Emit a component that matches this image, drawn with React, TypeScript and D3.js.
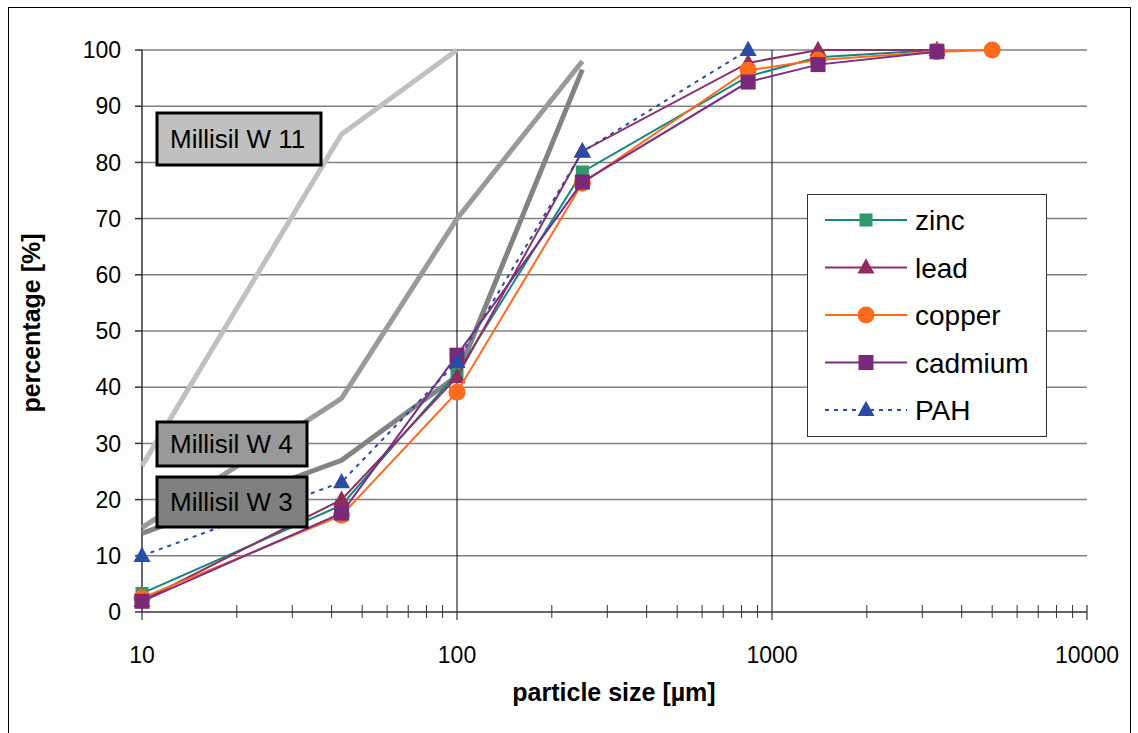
import React from 'react';
import * as d3 from 'd3';

// particle sizes (µm) of the sieve fractions
const sizes = [10, 43, 100, 250, 840, 1400, 3340, 5000];

const zinc = [3.3, 19, 42.5, 78.3, 95.3, 98.7, 100];
const lead = [2, 20, 41.8, 82, 97.7, 100, 100];
const copper = [2.5, 17.2, 39.1, 76.3, 96.4, 98.2, 99.7, 100];
const cadmium = [1.9, 17.6, 45.7, 76.5, 94.3, 97.4, 99.7];
const pah = [10, 23.1, 44.5, 81.9, 100];

const millisilW11 = [26, 85, 100];
const millisilW4 = [15, 38, 70, 98];
const millisilW3 = [14, 27, 42, 96.5];

const yTicks = [0, 10, 20, 30, 40, 50, 60, 70, 80, 90, 100];
const xTicks = [10, 100, 1000, 10000];

const series = [
  { name: 'zinc', values: zinc, line: '#14857f', fill: '#2e9a6c', marker: 'square', size: 13, dash: null },
  { name: 'lead', values: lead, line: '#8e3068', fill: '#8e2c62', marker: 'triangle', size: 17, dash: null },
  { name: 'copper', values: copper, line: '#ff6a1c', fill: '#ff6a1c', marker: 'circle', size: 17, dash: null },
  { name: 'cadmium', values: cadmium, line: '#7b2d88', fill: '#7a2878', marker: 'square', size: 15, dash: null },
  { name: 'PAH', values: pah, line: '#2b4ca6', fill: '#2b4ca6', marker: 'triangle', size: 17, dash: '4,5' },
];

const references = [
  { name: 'Millisil W 11', values: millisilW11, color: '#c0c0c0', box: [157, 113, 164, 52], fill: '#c0c0c0' },
  { name: 'Millisil W 4', values: millisilW4, color: '#9a9a9a', box: [157, 422, 150, 44], fill: '#999999' },
  { name: 'Millisil W 3', values: millisilW3, color: '#838383', box: [157, 477, 150, 50], fill: '#808080' },
];

const font = '"Liberation Sans", Arial, sans-serif';

const x = d3.scaleLog().domain([10, 10000]).range([142, 1087]);
const y = d3.scaleLinear().domain([0, 100]).range([612, 50]);

const line = d3.line<number>()
  .x((_, i) => x(sizes[i]))
  .y(d => y(d));

function Marker({ kind, size, fill, cx, cy }) {
  if (kind === 'square') {
    return <rect x={cx - size / 2} y={cy - size / 2} width={size} height={size} fill={fill} />;
  }
  if (kind === 'circle') {
    return <circle cx={cx} cy={cy} r={size / 2} fill={fill} />;
  }
  const h = size * 0.9;
  const pts = [[cx, cy - h * 0.6], [cx + size / 2, cy + h * 0.4], [cx - size / 2, cy + h * 0.4]];
  return <polygon points={pts.map(p => p.join(',')).join(' ')} fill={fill} />;
}

export default function App() {
  const minor: number[] = [];
  [10, 100, 1000].forEach(d => {
    for (let k = 2; k <= 9; k++) minor.push(k * d);
  });

  return (
    <svg width={1138} height={733} style={{ position: 'absolute', left: 0, top: 0, background: '#fff' }}>
      <rect x={8.5} y={7.5} width={1122} height={740} fill="#fff" stroke="#000" strokeWidth={1} />

      {/* horizontal grid */}
      {yTicks.filter(t => t > 0).map(t => (
        <line key={t} x1={142} x2={1087} y1={y(t)} y2={y(t)} stroke="#808080" strokeWidth={1.5} />
      ))}
      {/* vertical grid */}
      {[100, 1000].map(t => (
        <line key={t} x1={x(t)} x2={x(t)} y1={50} y2={612} stroke="#000" strokeWidth={1} />
      ))}

      {/* y axis */}
      <line x1={142} x2={142} y1={50} y2={612} stroke="#333" strokeWidth={1.5} />
      {yTicks.map(t => (
        <g key={t}>
          <line x1={135} x2={142} y1={y(t)} y2={y(t)} stroke="#333" strokeWidth={1.5} />
          <text x={121} y={y(t)} dy="0.36em" textAnchor="end" fontFamily={font} fontSize={23} fill="#000">{t}</text>
        </g>
      ))}

      {/* x axis */}
      <line x1={142} x2={1087} y1={612} y2={612} stroke="#333" strokeWidth={1.5} />
      {minor.map(t => (
        <line key={t} x1={x(t)} x2={x(t)} y1={605} y2={618} stroke="#333" strokeWidth={1} />
      ))}
      {xTicks.map(t => (
        <g key={t}>
          <line x1={x(t)} x2={x(t)} y1={t === 10000 ? 605 : 612} y2={620} stroke="#333" strokeWidth={1.2} />
          <text x={x(t)} y={663} textAnchor="middle" fontFamily={font} fontSize={23} fill="#000">{t}</text>
        </g>
      ))}

      <text x={614} y={701} textAnchor="middle" fontFamily={font} fontSize={25} fontWeight="bold">particle size [µm]</text>
      <text transform="translate(40,323) rotate(-90)" textAnchor="middle" fontFamily={font} fontSize={25} fontWeight="bold">percentage [%]</text>

      {/* reference curves */}
      {references.map(r => (
        <path key={r.name} d={line(r.values) || ''} fill="none" stroke={r.color} strokeWidth={5} strokeLinejoin="miter" />
      ))}

      {/* measured series */}
      {series.map(s => (
        <g key={s.name}>
          <path d={line(s.values) || ''} fill="none" stroke={s.line} strokeWidth={2} strokeDasharray={s.dash || undefined} />
          {s.values.map((v, i) => (
            <Marker key={i} kind={s.marker} size={s.size} fill={s.fill} cx={x(sizes[i])} cy={y(v)} />
          ))}
        </g>
      ))}

      {/* reference labels */}
      {references.map(r => (
        <g key={r.name}>
          <rect x={r.box[0]} y={r.box[1]} width={r.box[2]} height={r.box[3]} fill={r.fill} stroke="#000" strokeWidth={3} />
          <text x={r.box[0] + 13} y={r.box[1] + r.box[3] / 2} dy="0.36em" fontFamily={font} fontSize={26} fill="#000">{r.name}</text>
        </g>
      ))}

      {/* legend */}
      <rect x={807.5} y={194.5} width={239} height={242} fill="#fff" stroke="#333" strokeWidth={1} />
      {series.map((s, i) => {
        const ly = 220 + i * 47.5;
        return (
          <g key={s.name}>
            <line x1={825} x2={907} y1={ly} y2={ly} stroke={s.line} strokeWidth={2} strokeDasharray={s.dash || undefined} />
            <Marker kind={s.marker} size={s.size} fill={s.fill} cx={866} cy={ly} />
            <text x={915} y={ly} dy="0.36em" fontFamily={font} fontSize={28} fill="#000">{s.name}</text>
          </g>
        );
      })}
    </svg>
  );
}
